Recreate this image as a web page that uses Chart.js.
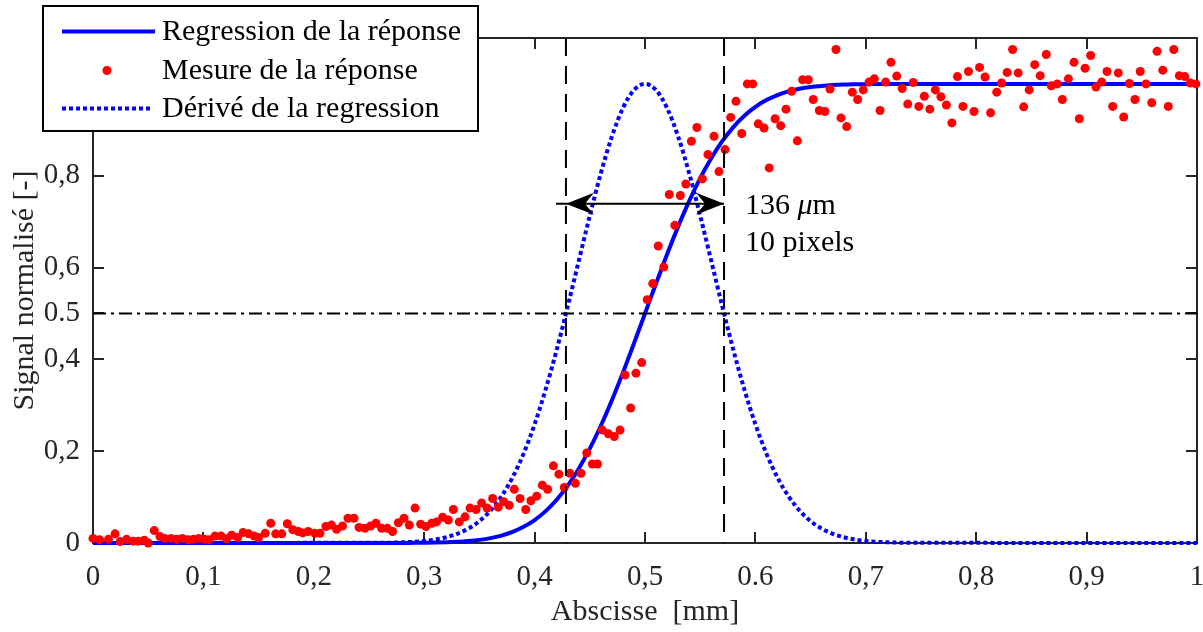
<!DOCTYPE html>
<html>
<head>
<meta charset="utf-8">
<script src="https://cdn.jsdelivr.net/npm/chart.js@4.4.1/dist/chart.umd.min.js"></script>
<style>
  html, body { margin: 0; padding: 0; background: #fff; }
  #wrap { width: 1203px; height: 632px; position: relative; }
</style>
</head>
<body>
<div id="wrap"><canvas id="chart"></canvas></div>
<script>
const FONT = '"Liberation Serif", "Times New Roman", serif';
const AXIS_COLOR = "#262626";

// axes
const xTicks = [0, 0.1, 0.2, 0.3, 0.4, 0.5, 0.6, 0.7, 0.8, 0.9, 1];
const xTickLabels = ["0", "0,1", "0,2", "0,3", "0,4", "0,5", "0.6", "0,7", "0,8", "0,9", "1"];
const yTicks = [0, 0.2, 0.4, 0.5, 0.6, 0.8];
const yTickLabels = ["0", "0,2", "0,4", "0.5", "0,6", "0,8"];

// regression curve and its derivative
const fitX = [0, 0.27, 0.28, 0.29, 0.30, 0.31, 0.32, 0.33, 0.34, 0.35, 0.36, 0.37, 0.38, 0.39,
  0.40, 0.41, 0.42, 0.43, 0.44, 0.45, 0.46, 0.47, 0.48, 0.49, 0.50, 0.51, 0.52, 0.53, 0.54,
  0.55, 0.56, 0.57, 0.58, 0.59, 0.60, 0.61, 0.62, 0.63, 0.64, 0.65, 0.66, 0.67, 0.68, 0.69,
  0.70, 0.71, 0.72, 0.73, 1];
const fitY = [0, 0.0001, 0.0001, 0.0003, 0.0005, 0.0009, 0.0015, 0.0026, 0.0043, 0.0068, 0.0106,
  0.0162, 0.0242, 0.0352, 0.0500, 0.0694, 0.0941, 0.1248, 0.1619, 0.2054, 0.2553, 0.3109,
  0.3711, 0.4347, 0.5, 0.5653, 0.6289, 0.6891, 0.7447, 0.7946, 0.8381, 0.8752, 0.9059,
  0.9306, 0.9500, 0.9648, 0.9758, 0.9838, 0.9894, 0.9932, 0.9957, 0.9974, 0.9985, 0.9991,
  0.9995, 0.9997, 0.9999, 0.9999, 1];
const derivY = [0, 0.0008, 0.0014, 0.0026, 0.0045, 0.0076, 0.0125, 0.0201, 0.0314, 0.0477, 0.0706,
  0.1017, 0.1426, 0.1946, 0.2586, 0.3344, 0.4208, 0.5154, 0.6145, 0.7130, 0.8054, 0.8854,
  0.9473, 0.9866, 1, 0.9866, 0.9473, 0.8854, 0.8054, 0.7130, 0.6145, 0.5154, 0.4208, 0.3344,
  0.2586, 0.1946, 0.1426, 0.1017, 0.0706, 0.0477, 0.0314, 0.0201, 0.0125, 0.0076, 0.0045,
  0.0026, 0.0014, 0.0008, 0];

// measured points
const measX = [0, 0.006, 0.014, 0.02, 0.0245, 0.0305, 0.0365, 0.041, 0.0465, 0.05, 0.0555, 0.0607,
  0.065, 0.0707, 0.0758, 0.081, 0.0864, 0.0909, 0.096, 0.1009, 0.105, 0.1105, 0.116, 0.121,
  0.1256, 0.131, 0.136, 0.141, 0.146, 0.15, 0.156, 0.161, 0.1655, 0.171, 0.176, 0.181, 0.186,
  0.19, 0.195, 0.201, 0.2056, 0.211, 0.216, 0.2207, 0.226, 0.231, 0.2364, 0.241, 0.2464,
  0.2515, 0.2563, 0.2615, 0.2666, 0.2714, 0.2766, 0.2817, 0.2865, 0.2917, 0.2968, 0.3016,
  0.3068, 0.3112, 0.3167, 0.3219, 0.3264, 0.3318, 0.337, 0.3415, 0.347, 0.352, 0.357, 0.362,
  0.367, 0.372, 0.377, 0.3816, 0.3868, 0.392, 0.3967, 0.4019, 0.407, 0.4118, 0.417, 0.422,
  0.4269, 0.432, 0.4369, 0.442, 0.4472, 0.4523, 0.457, 0.4613, 0.4668, 0.4722, 0.4774, 0.4819,
  0.487, 0.4918, 0.497, 0.502, 0.507, 0.512, 0.517, 0.522, 0.527, 0.532, 0.537, 0.542, 0.547,
  0.552, 0.557, 0.5625, 0.567, 0.5725, 0.5776, 0.5824, 0.5876, 0.5927, 0.5975, 0.6026, 0.6078,
  0.6126, 0.6178, 0.6229, 0.6277, 0.6328, 0.638, 0.6428, 0.648, 0.6524, 0.6579, 0.663, 0.6676,
  0.673, 0.6775, 0.6827, 0.6878, 0.6926, 0.6977, 0.7029, 0.7077, 0.7129, 0.718, 0.7228, 0.728,
  0.733, 0.738, 0.743, 0.748, 0.753, 0.758, 0.763, 0.768, 0.773, 0.778, 0.783, 0.788, 0.793,
  0.798, 0.803, 0.808, 0.813, 0.8186, 0.823, 0.828, 0.833, 0.838, 0.843, 0.848, 0.853, 0.858,
  0.8635, 0.868, 0.8735, 0.878, 0.8835, 0.8886, 0.8934, 0.8986, 0.9037, 0.9085, 0.9137, 0.9185,
  0.9236, 0.9287, 0.9336, 0.9387, 0.9438, 0.9486, 0.9538, 0.959, 0.9638, 0.969, 0.974, 0.979,
  0.984, 0.989, 0.994, 0.999];
const measY = [0.010, 0.007, 0.008, 0.020, 0.003, 0.008, 0.004, 0.004, 0.006, 0.000, 0.027, 0.014,
  0.010, 0.010, 0.008, 0.010, 0.007, 0.008, 0.010, 0.008, 0.007, 0.015, 0.015, 0.009,
  0.017, 0.012, 0.023, 0.020, 0.015, 0.012, 0.021, 0.043, 0.020, 0.020, 0.042, 0.029, 0.025,
  0.022, 0.025, 0.021, 0.021, 0.036, 0.039, 0.030, 0.037, 0.054, 0.054, 0.034, 0.032,
  0.037, 0.043, 0.032, 0.032, 0.025, 0.044, 0.054, 0.039, 0.076, 0.041, 0.036,
  0.043, 0.046, 0.056, 0.050, 0.073, 0.046, 0.057, 0.076, 0.073, 0.087, 0.076, 0.097,
  0.078, 0.090, 0.082, 0.117, 0.097, 0.073, 0.092, 0.102, 0.126, 0.117, 0.168, 0.150,
  0.121, 0.152, 0.130, 0.152, 0.196, 0.172, 0.172, 0.246, 0.238, 0.232, 0.246, 0.366,
  0.294, 0.370, 0.393, 0.530, 0.565, 0.647, 0.601, 0.759, 0.692, 0.757, 0.782, 0.875, 0.905,
  0.793, 0.846, 0.886, 0.809, 0.857, 0.927, 0.962, 0.892, 1.000, 1.000, 0.913, 0.904,
  0.817, 0.924, 0.909, 0.945, 0.984, 0.876, 1.009, 1.009, 0.966, 0.942, 0.940, 0.989,
  1.075, 0.926, 0.907, 0.982, 0.966, 0.987, 1.004, 1.011, 0.942, 1.004, 1.047, 1.017,
  0.990, 0.956, 1.003, 0.951, 0.973, 0.945, 0.987, 0.972, 0.954, 0.915, 1.016, 0.951, 1.027,
  0.940, 1.036, 1.015, 0.937, 0.982, 1.002, 1.025, 1.075, 1.024, 0.950, 0.987, 1.042, 1.018,
  1.064, 0.996, 1.000, 0.966, 1.011, 1.047, 0.924, 1.034, 1.062, 0.993, 1.004, 1.027,
  0.951, 1.024, 0.928, 1.001, 0.966, 1.027, 1.000, 0.959, 1.071, 1.030, 0.951, 1.075,
  1.018, 1.016, 1.002, 1.000];

// half-maximum markers and width annotation
const fwhmX = [0.4284, 0.5716];
const halfLevel = 0.5;
const arrowLevel = 0.739;
const widthLabels = ["136 ", "μ", "m"];
const pixelLabel = "10 pixels";

const legendLabels = ["Regression de la réponse", "Mesure de la réponse", "Dérivé de la regression"];

const toPoints = (xs, ys) => xs.map((x, i) => ({ x: x, y: ys[i] }));

function arrowHead(ctx, tipX, tipY, dir) {
  const L = 28, W = 11, N = 19;
  ctx.beginPath();
  ctx.moveTo(tipX, tipY);
  ctx.lineTo(tipX - dir * L, tipY - W);
  ctx.lineTo(tipX - dir * N, tipY);
  ctx.lineTo(tipX - dir * L, tipY + W);
  ctx.closePath();
  ctx.fill();
}

const matlabAxes = {
  id: "matlabAxes",
  beforeDatasetsDraw(chart) {
    const { ctx, chartArea: a, scales: { x, y } } = chart;
    ctx.save();
    ctx.strokeStyle = AXIS_COLOR;
    ctx.lineWidth = 2;
    ctx.strokeRect(a.left, a.top, a.right - a.left, a.bottom - a.top);
    ctx.beginPath();
    xTicks.forEach((v) => {
      const px = Math.round(x.getPixelForValue(v));
      ctx.moveTo(px, a.bottom); ctx.lineTo(px, a.bottom - 11);
      ctx.moveTo(px, a.top); ctx.lineTo(px, a.top + 11);
    });
    yTicks.forEach((v) => {
      const py = Math.round(y.getPixelForValue(v));
      ctx.moveTo(a.left, py); ctx.lineTo(a.left + 11, py);
      ctx.moveTo(a.right, py); ctx.lineTo(a.right - 11, py);
    });
    ctx.stroke();
    ctx.restore();
  },
  afterDatasetsDraw(chart) {
    const { ctx, chartArea: a, scales: { x, y } } = chart;
    ctx.save();
    ctx.strokeStyle = "#000";
    ctx.fillStyle = "#000";
    ctx.lineWidth = 2;

    // dashed verticals
    ctx.setLineDash([18, 10]);
    fwhmX.forEach((v) => {
      const px = x.getPixelForValue(v);
      ctx.beginPath();
      ctx.moveTo(px, a.top);
      ctx.lineTo(px, a.bottom);
      ctx.stroke();
    });

    // dash-dot half level
    ctx.setLineDash([13, 5, 3, 5]);
    const hy = y.getPixelForValue(halfLevel);
    ctx.beginPath();
    ctx.moveTo(a.left, hy);
    ctx.lineTo(a.right, hy);
    ctx.stroke();

    // double arrow
    ctx.setLineDash([]);
    const ay = y.getPixelForValue(arrowLevel);
    const x1 = x.getPixelForValue(fwhmX[0]);
    const x2 = x.getPixelForValue(fwhmX[1]);
    ctx.beginPath();
    ctx.moveTo(x1 - 10, ay);
    ctx.lineTo(x2, ay);
    ctx.stroke();
    arrowHead(ctx, x1, ay, -1);
    arrowHead(ctx, x2, ay, 1);

    // labels
    ctx.textBaseline = "alphabetic";
    ctx.textAlign = "left";
    let tx = x2 + 21;
    ctx.font = "30px " + FONT;
    ctx.fillText(widthLabels[0], tx, ay + 10);
    tx += ctx.measureText(widthLabels[0]).width;
    ctx.font = "italic 30px " + FONT;
    ctx.fillText(widthLabels[1], tx, ay + 10);
    tx += ctx.measureText(widthLabels[1]).width;
    ctx.font = "30px " + FONT;
    ctx.fillText(widthLabels[2], tx, ay + 10);
    ctx.fillText(pixelLabel, x2 + 21, ay + 47);
    ctx.restore();
  },
  afterDraw(chart) {
    const ctx = chart.ctx;
    const box = { left: 43, top: 6, right: 478, bottom: 131 };
    const rows = [31.5, 70.5, 108.5];
    ctx.save();
    ctx.fillStyle = "#fff";
    ctx.fillRect(box.left, box.top, box.right - box.left, box.bottom - box.top);
    ctx.strokeStyle = "#000";
    ctx.lineWidth = 2;
    ctx.strokeRect(box.left, box.top, box.right - box.left, box.bottom - box.top);

    ctx.strokeStyle = "#0000ff";
    ctx.lineWidth = 4;
    ctx.beginPath();
    ctx.moveTo(62, rows[0]); ctx.lineTo(155, rows[0]);
    ctx.stroke();

    ctx.fillStyle = "#ff0000";
    ctx.beginPath();
    ctx.arc(107, rows[1], 4.5, 0, Math.PI * 2);
    ctx.fill();

    ctx.setLineDash([4, 3]);
    ctx.beginPath();
    ctx.moveTo(62, rows[2]); ctx.lineTo(153, rows[2]);
    ctx.stroke();
    ctx.setLineDash([]);

    ctx.fillStyle = "#000";
    ctx.font = "30px " + FONT;
    ctx.textBaseline = "middle";
    ctx.textAlign = "left";
    legendLabels.forEach((t, i) => ctx.fillText(t, 162, rows[i] + 1));
    ctx.restore();
  }
};

const tickFont = { family: FONT, size: 29 };
const titleFont = { family: FONT, size: 30 };

new Chart(document.getElementById("chart"), {
  type: "scatter",
  data: {
    datasets: [
      {
        label: legendLabels[1],
        data: toPoints(measX, measY),
        pointRadius: 4.5,
        pointBackgroundColor: "#ff0000",
        pointBorderWidth: 0,
        showLine: false,
        clip: false
      },
      {
        label: legendLabels[2],
        data: toPoints(fitX, derivY),
        showLine: true,
        borderColor: "#0000ff",
        borderWidth: 4,
        borderDash: [4, 3],
        pointRadius: 0,
        cubicInterpolationMode: "monotone",
        clip: false
      },
      {
        label: legendLabels[0],
        data: toPoints(fitX, fitY),
        showLine: true,
        borderColor: "#0000ff",
        borderWidth: 4,
        pointRadius: 0,
        cubicInterpolationMode: "monotone",
        clip: false
      }
    ]
  },
  options: {
    responsive: true,
    maintainAspectRatio: false,
    animation: false,
    devicePixelRatio: 1,
    layout: { padding: { top: 38, right: 6, left: 0, bottom: 0 } },
    plugins: { legend: { display: false }, tooltip: { enabled: false } },
    scales: {
      x: {
        type: "linear",
        min: 0,
        max: 1,
        afterBuildTicks: (s) => { s.ticks = xTicks.map((v) => ({ value: v })); },
        afterFit: (s) => { s.height = 89; s.paddingLeft = 0; s.paddingRight = 0; },
        grid: { display: false, drawTicks: false },
        border: { display: false },
        ticks: {
          callback: (v, i) => xTickLabels[i],
          font: tickFont,
          color: AXIS_COLOR,
          padding: 17,
          maxRotation: 0,
          autoSkip: false
        },
        title: {
          display: true,
          text: "Abscisse  [mm]",
          font: titleFont,
          color: AXIS_COLOR,
          padding: { top: 0, bottom: 2 }
        }
      },
      y: {
        type: "linear",
        min: 0,
        max: 1.1,
        afterBuildTicks: (s) => { s.ticks = yTicks.map((v) => ({ value: v })); },
        afterFit: (s) => { s.width = 93; s.paddingTop = 0; s.paddingBottom = 0; },
        grid: { display: false, drawTicks: false },
        border: { display: false },
        ticks: {
          callback: (v, i) => yTickLabels[i],
          font: tickFont,
          color: AXIS_COLOR,
          padding: 13,
          autoSkip: false
        },
        title: {
          display: true,
          text: "Signal normalisé [-]",
          font: titleFont,
          color: AXIS_COLOR,
          padding: { top: 7, bottom: 0 }
        }
      }
    }
  },
  plugins: [matlabAxes]
});
</script>
</body>
</html>
